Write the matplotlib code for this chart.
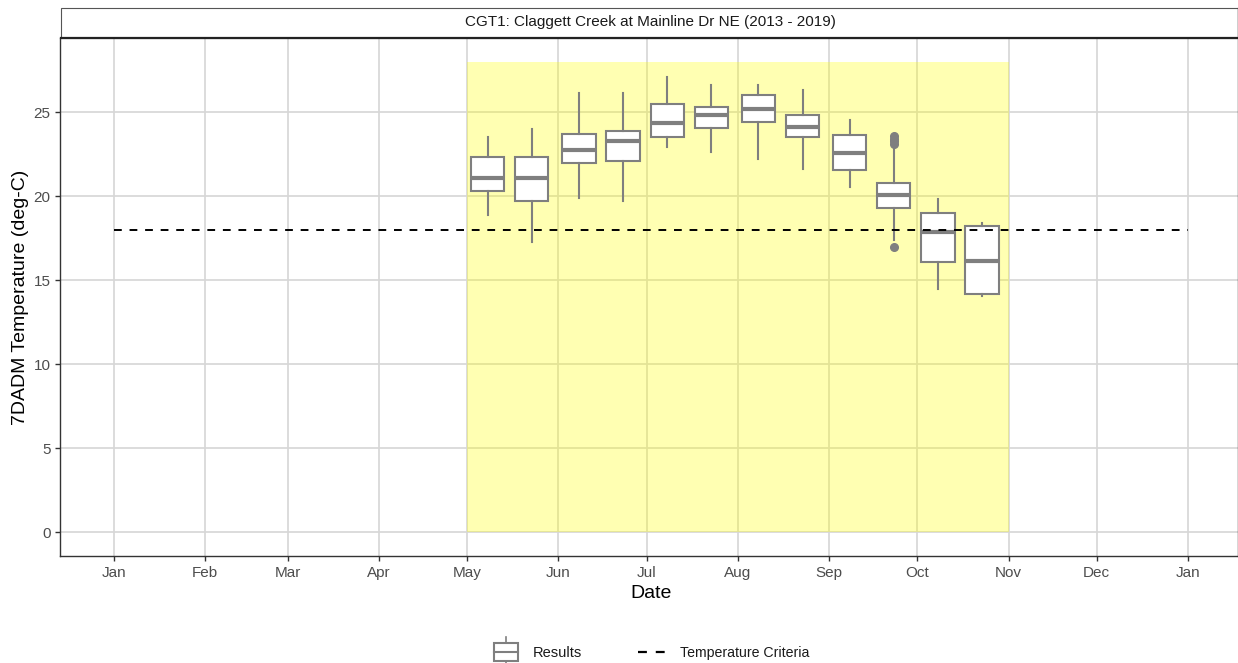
import matplotlib
matplotlib.use('Agg')
import matplotlib.pyplot as plt
import matplotlib.patches as mpatches
import matplotlib.dates as mdates
from datetime import datetime

plt.rcParams['font.family'] = ['Liberation Sans', 'DejaVu Sans']

# half-month periods
box_dates = ['2019-05-08', '2019-05-23', '2019-06-08', '2019-06-23', '2019-07-08', '2019-07-23',
             '2019-08-08', '2019-08-23', '2019-09-08', '2019-09-23', '2019-10-08', '2019-10-23']
whisk_lo = [18.9, 17.3, 19.9, 19.7, 22.9, 22.65, 22.2, 21.6, 20.55, 17.4, 14.5, 14.05]
q1 = [20.3, 19.7, 21.95, 22.1, 23.5, 24.05, 24.4, 23.5, 21.55, 19.27, 16.1, 14.15]
med = [21.1, 21.1, 22.75, 23.25, 24.35, 24.8, 25.15, 24.1, 22.55, 20.07, 17.85, 16.15]
q3 = [22.35, 22.3, 23.7, 23.85, 25.45, 25.3, 26.0, 24.85, 23.65, 20.75, 19.0, 18.2]
whisk_hi = [23.5, 24.0, 26.1, 26.15, 27.1, 26.6, 26.6, 26.3, 24.55, 22.8, 19.85, 18.4]
outliers = [[], [], [], [], [], [], [], [], [], [23.1, 23.25, 23.4, 23.55, 17.0], [], []]

criteria = 18
criteria_range = ['2019-01-01', '2020-01-01']
season = ['2019-05-01', '2019-11-01']
season_top = 28

title = 'CGT1: Claggett Creek at Mainline Dr NE (2013 - 2019)'

def dn(s):
    return mdates.date2num(datetime.strptime(s, '%Y-%m-%d'))

W, H = 1238, 663
fig = plt.figure(figsize=(W / 100, H / 100), dpi=100)
ax_l = 60.3 / W
ax_w = 1181.4 / W
ax = fig.add_axes([ax_l, 1 - 556 / H, ax_w, 518 / H])

x0, x1 = dn(criteria_range[0]), dn(criteria_range[1])
span = x1 - x0
ax.set_xlim(x0 - 0.05 * span, x1 + 0.05 * span)
ax.set_ylim(-1.4, 29.4)

grid_c = '#d6d6d6'
ax.grid(True, color=grid_c, lw=1.2, zorder=0)
ax.set_axisbelow(True)

# growing season highlight
ax.axvspan(dn(season[0]), dn(season[1]), ymin=(0 + 1.4) / 30.8, ymax=(season_top + 1.4) / 30.8,
           color='#ffff00', alpha=0.3, lw=0, zorder=1)

# boxplots
stats = []
for i in range(len(box_dates)):
    stats.append(dict(whislo=whisk_lo[i], q1=q1[i], med=med[i], q3=q3[i],
                      whishi=whisk_hi[i], fliers=outliers[i]))
pos = [dn(d) for d in box_dates]
gray = '#7f7f7f'
ax.bxp(stats, positions=pos, widths=11.3, patch_artist=True, showcaps=False,
       boxprops=dict(facecolor='white', edgecolor=gray, lw=1.5),
       medianprops=dict(color=gray, lw=3),
       whiskerprops=dict(color=gray, lw=1.5),
       flierprops=dict(marker='o', markerfacecolor=gray, markeredgecolor=gray, markersize=5.5),
       manage_ticks=False, zorder=3)

ax.plot([x0, x1], [criteria, criteria], color='black', ls=(0, (4, 4)), lw=1.4, zorder=4)

# axes styling
months = [dn('2019-%02d-01' % m) for m in range(1, 13)] + [x1]
ax.set_xticks(months)
ax.xaxis.set_major_formatter(mdates.DateFormatter('%b'))
ax.set_yticks([0, 5, 10, 15, 20, 25])
ax.tick_params(colors='#333333', labelcolor='#4d4d4d', labelsize=11, length=3.5, width=1)
for s in ['top', 'right']:
    ax.spines[s].set_visible(False)
for s in ['left', 'bottom']:
    ax.spines[s].set_color('#333333')
    ax.spines[s].set_linewidth(1)

ax.set_xlabel('Date', fontsize=14, labelpad=4)
ax.set_ylabel('7DADM Temperature (deg-C)', fontsize=14, labelpad=3)

# right panel edge
fig.add_artist(plt.Line2D([1237.5 / W, 1237.5 / W], [1 - 556 / H, 1 - 8 / H], color='#333333', lw=1,
                          transform=fig.transFigure))

# facet strip
strip = mpatches.Rectangle((61 / W, 1 - 38 / H), 1 - 61 / W, 30 / H, transform=fig.transFigure,
                           facecolor='white', edgecolor='#555555', lw=0.8)
fig.patches.append(strip)
fig.add_artist(plt.Line2D([61 / W, 1.0], [1 - 38 / H, 1 - 38 / H], color='#222222', lw=1.6,
                          transform=fig.transFigure))
fig.text(650 / W, 1 - 22 / H, title, ha='center', va='center', fontsize=11, color='#1a1a1a')

# legend
def fx(px):
    return px / W

def fy(py):
    return 1 - py / H

bx_l, bx_r = 494, 518
fig.patches.append(mpatches.Rectangle((fx(bx_l), fy(661)), fx(bx_r - bx_l), (661 - 643) / H,
                                      transform=fig.transFigure, facecolor='white', edgecolor=gray, lw=1.5))
fig.add_artist(plt.Line2D([fx(bx_l), fx(bx_r)], [fy(652), fy(652)], color=gray, lw=1.5, transform=fig.transFigure))
fig.add_artist(plt.Line2D([fx(506), fx(506)], [fy(637), fy(643)], color=gray, lw=1.2, transform=fig.transFigure))
fig.add_artist(plt.Line2D([fx(506), fx(506)], [fy(661), fy(665)], color=gray, lw=1.2, transform=fig.transFigure))
fig.text(fx(533), fy(653), 'Results', ha='left', va='center', fontsize=10.5, color='#1a1a1a')
fig.add_artist(plt.Line2D([fx(638), fx(666)], [fy(652), fy(652)], color='black', lw=1.6, ls=(0, (4, 4)),
                          transform=fig.transFigure))
fig.text(fx(680), fy(653), 'Temperature Criteria', ha='left', va='center', fontsize=10.2, color='#1a1a1a')

fig.savefig('out.png', dpi=100)
